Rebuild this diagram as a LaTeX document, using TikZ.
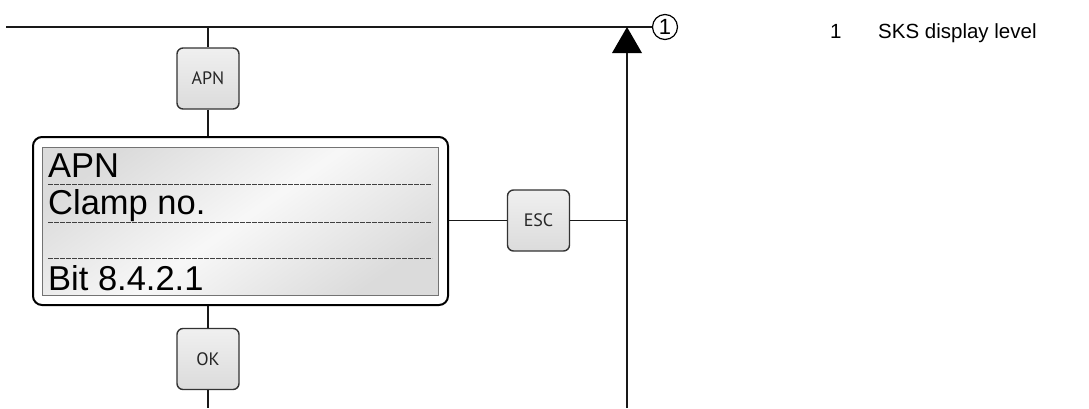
\documentclass[tikz,border=0pt]{standalone}
\usepackage{fontspec}
\setmainfont{Liberation Sans}
\newfontfamily\btnfont{PT Sans}
\usetikzlibrary{shadings}
\begin{document}
\begin{tikzpicture}[x=1pt,y=-1pt,
  wire/.style={line width=1.3pt,black!90},
  keybtn/.style={draw=black!80,line width=1.4pt,rounded corners=6pt,
     minimum width=62pt,minimum height=61pt,inner sep=0pt,
     top color=black!6,bottom color=black!14,
     font=\btnfont\fontsize{18}{18}\selectfont,text=black!85},
  disptext/.style={anchor=base west,inner sep=0pt,font=\fontsize{34.5}{34.5}\selectfont},
  dashline/.style={line width=0.9pt,black!75,dash pattern=on 5pt off 1pt},
  legend/.style={anchor=base west,inner sep=0pt,font=\fontsize{20.5}{20.5}\selectfont}]
\useasboundingbox (0,0) rectangle (1089,408);
% display
\node[draw=black,line width=2pt,rounded corners=9pt,fill=white,
  minimum width=415pt,minimum height=168pt,inner sep=0pt] (disp) at (240.5,221) {};
\node[draw=black!55,line width=1pt,
  left color=black!14,right color=black!14,middle color=black!3,
  shading angle=35,
  minimum width=396pt,minimum height=148pt,inner sep=0pt] (scr) at (240,221) {};
\node[disptext] (t1) at (48,177) {APN};
\node[disptext] (t2) at (48,214) {Clamp no.};
\node[disptext] (t4) at (48,290) {Bit 8.4.2.1};
\coordinate (d1a) at (48,184); \coordinate (d1b) at (432,184);
\coordinate (d2a) at (48,222); \coordinate (d2b) at (432,222);
\coordinate (d3a) at (48,258); \coordinate (d3b) at (432,258);
\draw[dashline] (d1a) -- (d1b);
\draw[dashline] (d2a) -- (d2b);
\draw[dashline] (d3a) -- (d3b);
% buttons
\node[keybtn] (apn) at (208,78.5) {APN};
\node[keybtn] (ok) at (208,359) {OK};
\node[keybtn] (esc) at (538.5,220.5) {ESC};
% level line and marker
\coordinate (tl) at (6,27);
\coordinate (tip) at (627,27);
\node[draw,circle,line width=1.2pt,minimum size=25pt,inner sep=0pt,
  font=\fontsize{22}{22}\selectfont] (c1) at (665,27) {1};
\draw[wire] (tl) -- (c1.west);
\coordinate (tb) at (627,53);
\coordinate (vb) at (627,408);
\fill[black] (tip) -- (642,53) -- (612,53) -- cycle;
\draw[wire] (tb) -- (vb);
% connectors
\coordinate (atop) at (208,27);
\coordinate (obot) at (208,408);
\draw[wire] (atop) -- (apn.north);
\draw[wire] (apn.south) -- (disp.north -| apn.south);
\draw[wire] (disp.south -| ok.north) -- (ok.north);
\draw[wire] (ok.south) -- (obot);
\draw[wire] (disp.east |- esc.west) -- (esc.west);
\coordinate (ej) at (627,220.5);
\draw[wire] (esc.east) -- (ej);
% legend
\node[legend] (l1) at (830,38) {1};
\node[legend] (l2) at (878,38) {SKS display level};
\end{tikzpicture}
\end{document}
